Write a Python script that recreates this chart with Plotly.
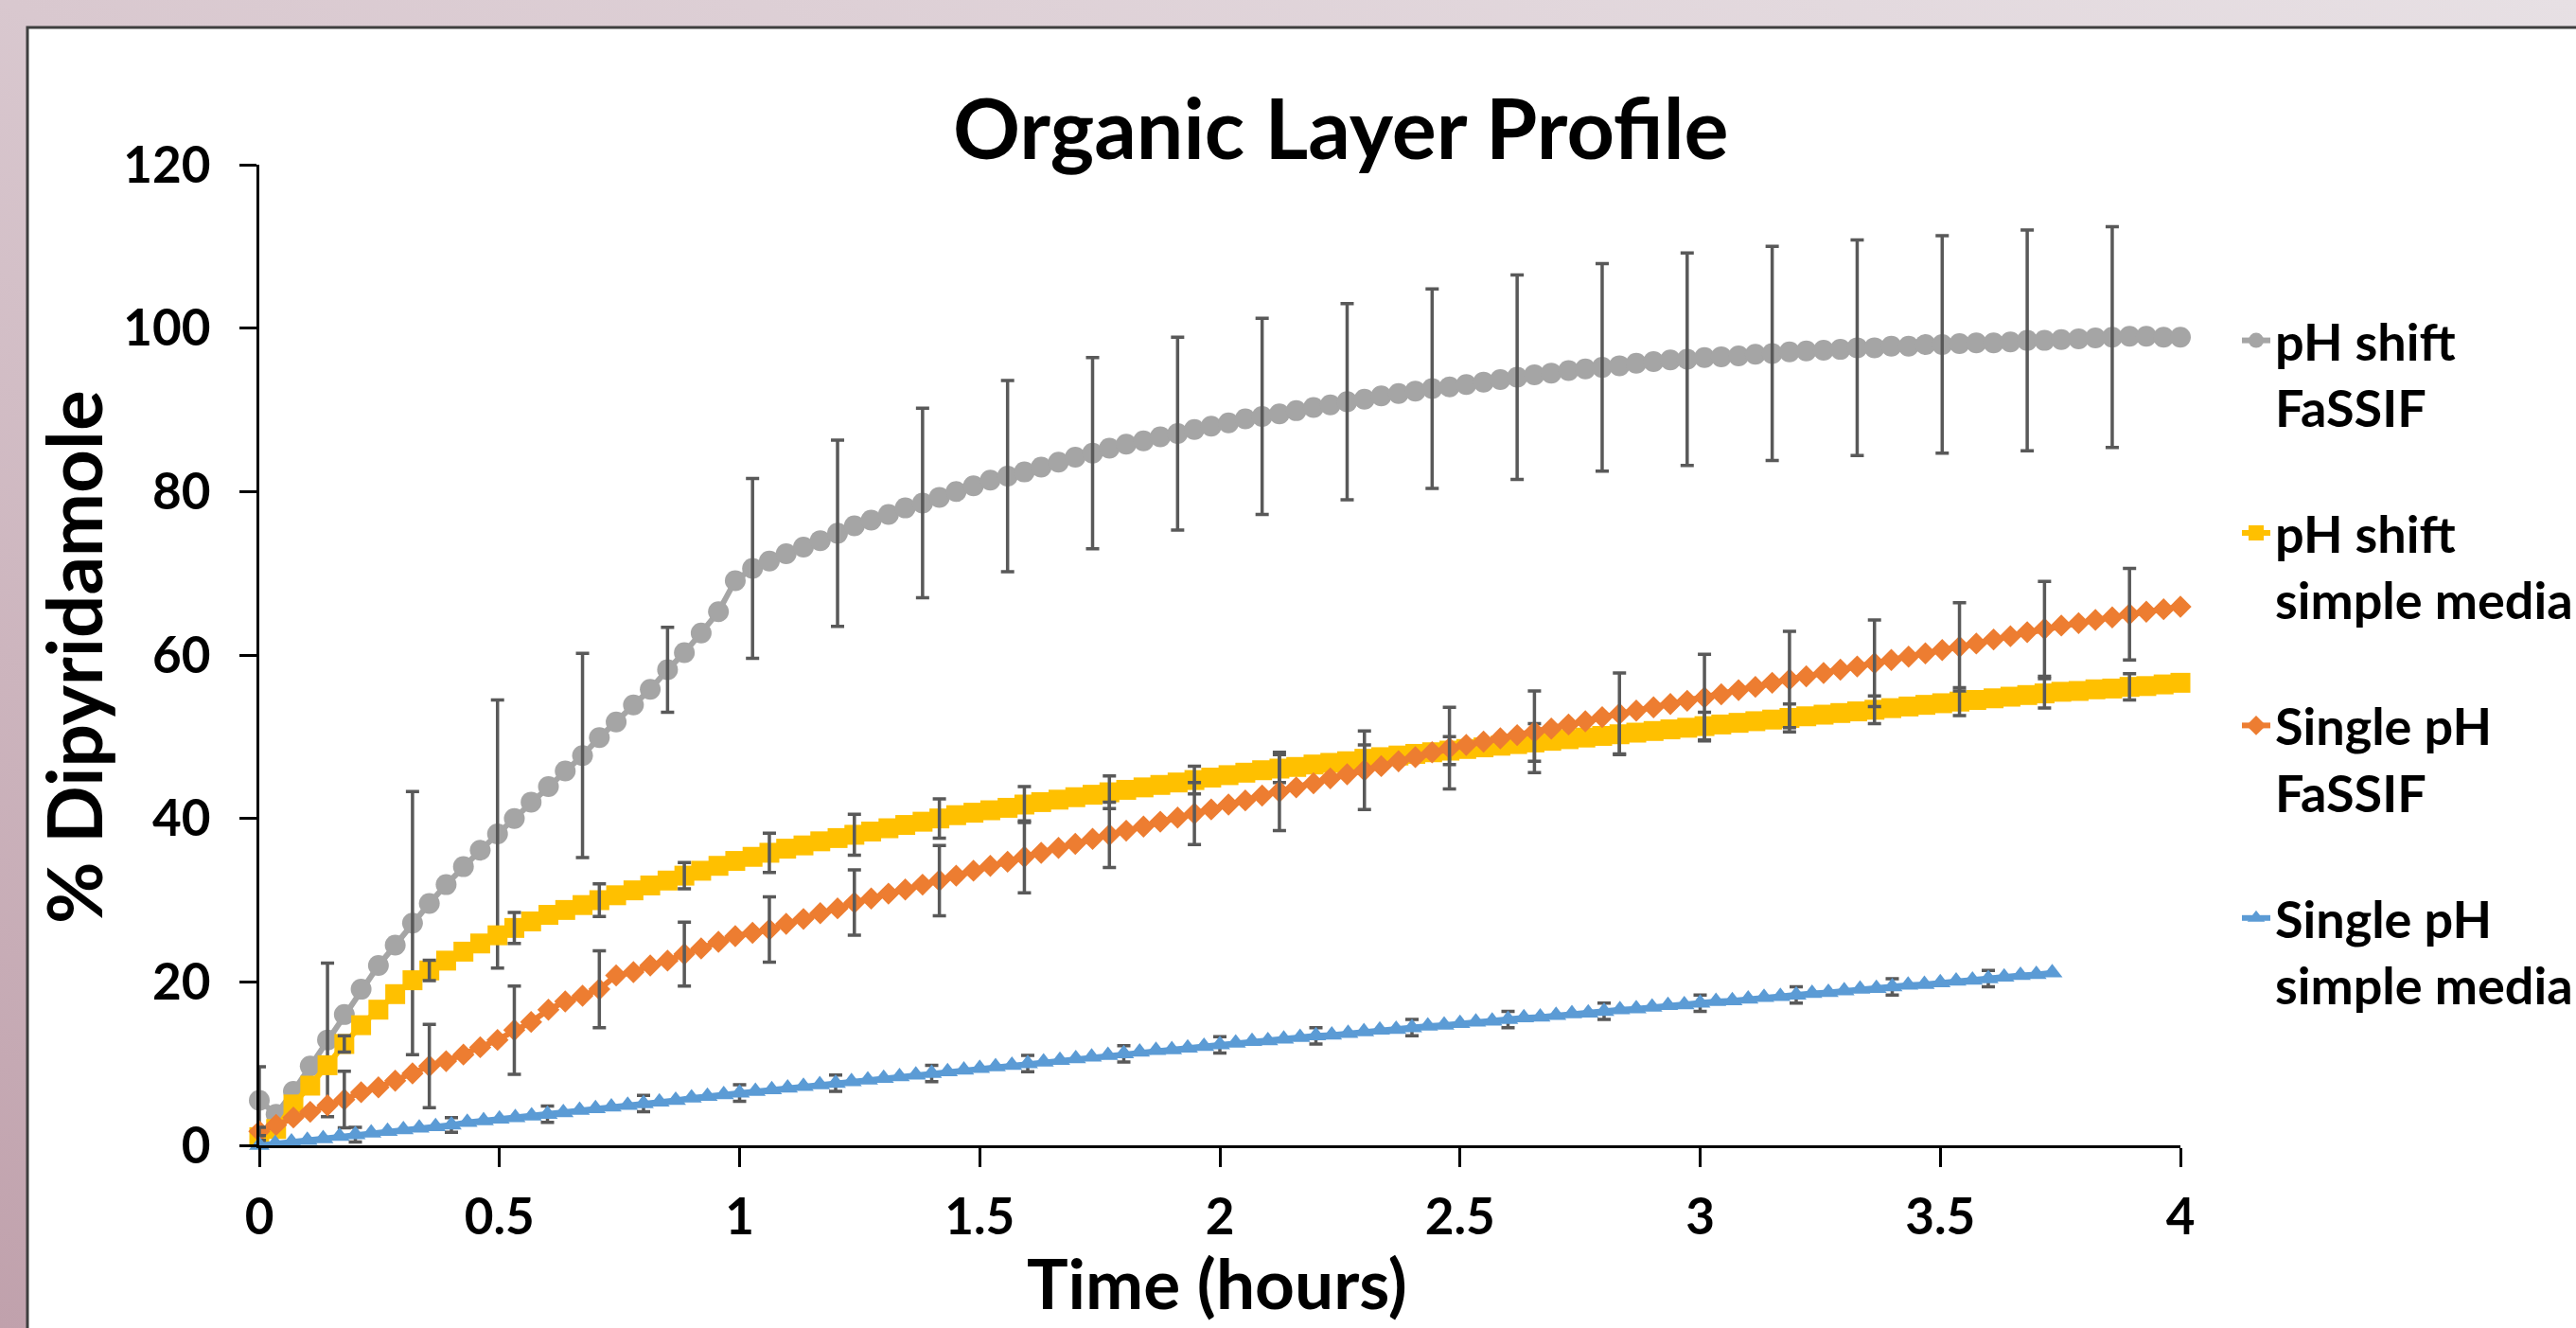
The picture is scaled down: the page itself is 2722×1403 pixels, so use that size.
import base64
import plotly.graph_objects as go

# ---------------- data ----------------
# sampling times (hours) for the three 4-hour experiments
time_h = [
    0.000, 0.035, 0.071, 0.106, 0.142, 0.177, 0.212, 0.248, 0.283, 0.319,
    0.354, 0.389, 0.425, 0.460, 0.496, 0.531, 0.566, 0.602, 0.637, 0.673,
    0.708, 0.743, 0.779, 0.814, 0.850, 0.885, 0.920, 0.956, 0.991, 1.027,
    1.062, 1.097, 1.133, 1.168, 1.204, 1.239, 1.274, 1.310, 1.345, 1.381,
    1.416, 1.451, 1.487, 1.522, 1.558, 1.593, 1.628, 1.664, 1.699, 1.735,
    1.770, 1.805, 1.841, 1.876, 1.912, 1.947, 1.982, 2.018, 2.053, 2.088,
    2.124, 2.159, 2.195, 2.230, 2.265, 2.301, 2.336, 2.372, 2.407, 2.442,
    2.478, 2.513, 2.549, 2.584, 2.619, 2.655, 2.690, 2.726, 2.761, 2.796,
    2.832, 2.867, 2.903, 2.938, 2.973, 3.009, 3.044, 3.080, 3.115, 3.150,
    3.186, 3.221, 3.257, 3.292, 3.327, 3.363, 3.398, 3.434, 3.469, 3.504,
    3.540, 3.575, 3.611, 3.646, 3.681, 3.717, 3.752, 3.788, 3.823, 3.858,
    3.894, 3.929, 3.965, 4.000,
]

ph_shift_fassif = [
    5.5, 3.8, 6.6, 9.7, 12.9, 16.0, 19.1, 22.0, 24.5, 27.2,
    29.6, 31.9, 34.1, 36.1, 38.1, 40.0, 42.0, 43.9, 45.8, 47.7,
    49.9, 51.8, 53.9, 55.8, 58.2, 60.3, 62.7, 65.3, 69.1, 70.6,
    71.5, 72.4, 73.2, 74.0, 74.9, 75.8, 76.5, 77.2, 78.0, 78.6,
    79.3, 80.0, 80.7, 81.4, 81.9, 82.4, 83.0, 83.6, 84.2, 84.7,
    85.3, 85.8, 86.2, 86.7, 87.1, 87.6, 88.0, 88.4, 88.9, 89.2,
    89.5, 89.9, 90.3, 90.6, 91.0, 91.3, 91.7, 92.0, 92.3, 92.6,
    92.8, 93.1, 93.4, 93.7, 94.0, 94.3, 94.5, 94.8, 95.0, 95.2,
    95.4, 95.7, 95.9, 96.1, 96.2, 96.4, 96.5, 96.6, 96.8, 96.9,
    97.1, 97.2, 97.3, 97.4, 97.6, 97.6, 97.8, 97.8, 98.0, 98.0,
    98.1, 98.2, 98.2, 98.3, 98.5, 98.5, 98.6, 98.7, 98.8, 98.9,
    99.0, 99.0, 98.9, 98.9,
]

ph_shift_simple = [
    1.0, 2.0, 5.0, 7.3, 9.8, 12.4, 14.7, 16.6, 18.5, 20.2,
    21.4, 22.6, 23.7, 24.7, 25.7, 26.6, 27.4, 28.2, 28.8, 29.4,
    30.0, 30.6, 31.2, 31.8, 32.4, 33.0, 33.6, 34.2, 34.8, 35.3,
    35.8, 36.3, 36.7, 37.2, 37.6, 38.0, 38.4, 38.8, 39.2, 39.6,
    40.0, 40.4, 40.7, 41.0, 41.3, 41.7, 42.0, 42.3, 42.6, 42.9,
    43.2, 43.5, 43.8, 44.1, 44.4, 44.7, 45.0, 45.3, 45.6, 45.9,
    46.1, 46.3, 46.6, 46.8, 47.0, 47.3, 47.5, 47.7, 47.9, 48.1,
    48.3, 48.5, 48.7, 48.9, 49.1, 49.3, 49.5, 49.7, 49.9, 50.1,
    50.3, 50.5, 50.7, 50.9, 51.1, 51.3, 51.5, 51.7, 51.9, 52.1,
    52.3, 52.5, 52.7, 52.9, 53.1, 53.3, 53.5, 53.7, 53.9, 54.1,
    54.3, 54.5, 54.7, 54.9, 55.1, 55.3, 55.5, 55.6, 55.8, 55.9,
    56.1, 56.2, 56.4, 56.6,
]

single_fassif = [
    1.7, 2.5, 3.4, 4.1, 4.9, 5.6, 6.5, 7.1, 7.9, 8.8,
    9.7, 10.3, 11.1, 12.0, 12.9, 14.1, 15.1, 16.6, 17.6, 18.3,
    19.1, 20.8, 21.2, 22.0, 22.6, 23.4, 24.1, 24.9, 25.6, 26.0,
    26.4, 27.1, 27.7, 28.4, 29.0, 29.7, 30.2, 30.8, 31.3, 31.9,
    32.4, 33.0, 33.6, 34.2, 34.7, 35.3, 35.8, 36.4, 36.9, 37.5,
    38.0, 38.5, 39.0, 39.6, 40.1, 40.6, 41.1, 41.7, 42.2, 42.8,
    43.3, 43.8, 44.3, 44.9, 45.4, 45.9, 46.4, 47.0, 47.5, 48.1,
    48.6, 49.0, 49.4, 49.8, 50.2, 50.6, 51.0, 51.5, 51.9, 52.4,
    52.8, 53.2, 53.6, 54.0, 54.4, 54.8, 55.2, 55.7, 56.1, 56.6,
    57.0, 57.4, 57.8, 58.2, 58.6, 59.0, 59.4, 59.8, 60.2, 60.6,
    61.0, 61.4, 61.9, 62.3, 62.8, 63.2, 63.6, 63.9, 64.3, 64.6,
    65.0, 65.3, 65.6, 65.9,
]

# sampling times (hours) for the single pH / simple media experiment
time_single_simple_h = [
    0.000, 0.033, 0.067, 0.100, 0.133, 0.167, 0.200, 0.233, 0.267, 0.300,
    0.333, 0.367, 0.400, 0.433, 0.467, 0.500, 0.533, 0.567, 0.600, 0.633,
    0.667, 0.700, 0.733, 0.767, 0.800, 0.833, 0.867, 0.900, 0.933, 0.967,
    1.000, 1.033, 1.067, 1.100, 1.133, 1.167, 1.200, 1.233, 1.267, 1.300,
    1.333, 1.367, 1.400, 1.433, 1.467, 1.500, 1.533, 1.567, 1.600, 1.633,
    1.667, 1.700, 1.733, 1.767, 1.800, 1.833, 1.867, 1.900, 1.933, 1.967,
    2.000, 2.033, 2.067, 2.100, 2.133, 2.167, 2.200, 2.233, 2.267, 2.300,
    2.333, 2.367, 2.400, 2.433, 2.467, 2.500, 2.533, 2.567, 2.600, 2.633,
    2.667, 2.700, 2.733, 2.767, 2.800, 2.833, 2.867, 2.900, 2.933, 2.967,
    3.000, 3.033, 3.067, 3.100, 3.133, 3.167, 3.200, 3.233, 3.267, 3.300,
    3.333, 3.367, 3.400, 3.433, 3.467, 3.500, 3.533, 3.567, 3.600, 3.633,
    3.667, 3.700, 3.733,
]

single_simple = [
    0.0, 0.2, 0.4, 0.6, 0.8, 1.1, 1.3, 1.5, 1.7, 1.9,
    2.1, 2.3, 2.5, 2.8, 3.0, 3.2, 3.4, 3.6, 3.8, 4.0,
    4.3, 4.5, 4.7, 4.9, 5.1, 5.3, 5.5, 5.8, 6.0, 6.2,
    6.4, 6.6, 6.8, 7.0, 7.2, 7.4, 7.6, 7.8, 8.0, 8.2,
    8.4, 8.6, 8.8, 9.0, 9.2, 9.4, 9.6, 9.8, 10.0, 10.2,
    10.4, 10.6, 10.8, 11.0, 11.2, 11.4, 11.6, 11.7, 11.9, 12.1,
    12.3, 12.5, 12.7, 12.8, 13.0, 13.2, 13.4, 13.5, 13.7, 13.9,
    14.1, 14.2, 14.4, 14.6, 14.7, 14.9, 15.1, 15.2, 15.4, 15.6,
    15.7, 15.9, 16.1, 16.2, 16.4, 16.6, 16.7, 16.9, 17.1, 17.2,
    17.4, 17.6, 17.7, 17.9, 18.1, 18.2, 18.4, 18.6, 18.7, 18.9,
    19.1, 19.2, 19.4, 19.6, 19.7, 19.9, 20.1, 20.2, 20.4, 20.6,
    20.8, 20.9, 21.1,
]

# error bars: sample index where a bar is shown, and its half-length
err_idx_ph_shift_fassif = [0, 4, 9, 14, 19, 24, 29, 34, 39, 44, 49, 54,
                           59, 64, 69, 74, 79, 84, 89, 94, 99, 104, 109]
err_ph_shift_fassif = [4.1, 9.4, 16.1, 16.4, 12.5, 5.2, 11.0, 11.4, 11.6, 11.7,
                       11.7, 11.8, 12.0, 12.0, 12.2, 12.5, 12.7, 13.0, 13.1,
                       13.2, 13.3, 13.5, 13.5]

err_idx_5 = [0, 5, 10, 15, 20, 25, 30, 35, 40, 45, 50, 55,
             60, 65, 70, 75, 80, 85, 90, 95, 100, 105, 110]
err_ph_shift_simple = [0.6, 1.0, 1.25, 1.9, 2.0, 1.6, 2.4, 2.5, 2.4, 2.2, 2.0, 1.7,
                       1.7, 1.7, 1.7, 2.3, 2.4, 1.7, 1.7, 1.7, 1.7, 1.8, 1.6]
err_single_fassif = [0.5, 3.45, 5.1, 5.4, 4.7, 3.9, 4.0, 4.0, 4.3, 4.4, 4.0, 3.8,
                     4.8, 4.8, 5.0, 5.0, 5.0, 5.3, 5.9, 5.3, 5.4, 5.8, 5.6]

err_idx_6 = [0, 6, 12, 18, 24, 30, 36, 42, 48, 54, 60, 66, 72, 78, 84, 90,
             96, 102, 108]
err_single_simple = [0.6, 0.9, 0.9, 1.0, 1.0, 1.0, 1.0, 1.0, 1.0, 1.0, 1.0, 1.0,
                     1.0, 1.0, 1.0, 1.0, 1.0, 1.0, 1.0]

series_names = ["pH shift<br>FaSSIF", "pH shift<br>simple media",
                "Single pH<br>FaSSIF", "Single pH<br>simple media"]
series_colors = ["#A5A5A5", "#FFC000", "#ED7D31", "#5B9BD5"]
x_ticks = [0, 0.5, 1, 1.5, 2, 2.5, 3, 3.5, 4]
y_ticks = [0, 20, 40, 60, 80, 100, 120]

# ---------------- figure ----------------
W, H = 2722, 1403
L, R, T, B = 274, 418, 174, 193
PW, PH = W - L - R, H - T - B


def px_x(p):
    return (p - L) / PW


def px_y(p):
    return (H - B - p) / PH


FONT = "Lato, 'Open Sans', sans-serif"
ERR_COLOR = "#595959"

fig = go.Figure()

series = [
    (time_h, ph_shift_fassif, err_idx_ph_shift_fassif, err_ph_shift_fassif, "circle", 22),
    (time_h, ph_shift_simple, err_idx_5, err_ph_shift_simple, "square", 21),
    (time_h, single_fassif, err_idx_5, err_single_fassif, "diamond", 18),
    (time_single_simple_h, single_simple, err_idx_6, err_single_simple, "triangle-up", 19),
]

for k, (tx, vy, eidx, err, sym, msize) in enumerate(series):
    color = series_colors[k]
    eb = go.Scatter(
        x=[tx[i] for i in eidx], y=[vy[i] for i in eidx],
        mode="markers", marker=dict(size=2, color="rgba(0,0,0,0)"),
        error_y=dict(type="data", array=err, visible=True, color=ERR_COLOR,
                     thickness=3.5, width=7),
        showlegend=False, hoverinfo="skip", cliponaxis=False,
    )
    line = go.Scatter(
        x=tx, y=vy, name=series_names[k], legendgroup=str(k),
        mode="lines+markers",
        line=dict(color=color, width=6),
        marker=dict(symbol=sym, size=msize, color=color, line=dict(width=0)),
        cliponaxis=False,
    )
    if k == 3:
        fig.add_trace(eb)
        fig.add_trace(line)
    else:
        fig.add_trace(line)
        fig.add_trace(eb)

# background gradient (slide) and white chart area
svg = ('<svg xmlns="http://www.w3.org/2000/svg" width="%d" height="%d">'
       '<defs><linearGradient id="g" x1="1" y1="0" x2="0" y2="1">'
       '<stop offset="0" stop-color="#e7e0e4"/>'
       '<stop offset="0.5" stop-color="#d9c8cf"/>'
       '<stop offset="1" stop-color="#c0a1ac"/>'
       '</linearGradient></defs>'
       '<rect width="%d" height="%d" fill="url(#g)"/></svg>') % (W, H, W, H)
src = "data:image/svg+xml;base64," + base64.b64encode(svg.encode()).decode()

fig.update_layout(
    width=W, height=H,
    margin=dict(l=L, r=R, t=T, b=B, pad=0, autoexpand=False),
    paper_bgcolor="#d6c4cb",
    plot_bgcolor="white",
    font=dict(family=FONT, color="black"),
    images=[dict(source=src, xref="paper", yref="paper",
                 x=px_x(0), y=px_y(0), sizex=W / PW, sizey=H / PH,
                 sizing="stretch", layer="below", xanchor="left", yanchor="top")],
    shapes=[dict(type="rect", xref="paper", yref="paper",
                 x0=px_x(29), x1=px_x(W + 40), y0=px_y(H + 40), y1=px_y(29),
                 fillcolor="white", line=dict(color="#3f3f3f", width=3),
                 layer="below")],
    showlegend=True,
    legend=dict(
        x=px_x(2364), xanchor="left", y=px_y(318), yanchor="top",
        font=dict(family=FONT, size=54, color="black", weight="bold"),
        bgcolor="rgba(0,0,0,0)", borderwidth=0,
        tracegroupgap=60, traceorder="grouped", valign="top",
        itemsizing="trace",
    ),
    xaxis=dict(
        range=[0, 4], tickvals=x_ticks, ticktext=[("%g" % v) for v in x_ticks],
        showline=True, linecolor="black", linewidth=3,
        ticks="outside", ticklen=20, tickwidth=3, tickcolor="black",
        showgrid=False, zeroline=False,
        tickfont=dict(family=FONT, size=53, color="black", weight="bold"),
        ticklabelstandoff=7,
    ),
    yaxis=dict(
        range=[0, 120], tickvals=y_ticks,
        showline=True, linecolor="black", linewidth=3,
        ticks="outside", ticklen=18, tickwidth=3, tickcolor="black",
        showgrid=False, zeroline=False,
        tickfont=dict(family=FONT, size=53, color="black", weight="bold"),
        ticklabelstandoff=20,
    ),
    annotations=[
        dict(text="Organic Layer Profile", xref="paper", yref="paper",
             x=px_x(1417), y=px_y(134), xanchor="center", yanchor="middle",
             showarrow=False,
             font=dict(family=FONT, size=88, color="black", weight="bold")),
        dict(text="Time (hours)", xref="paper", yref="paper",
             x=px_x(1286), y=px_y(1355), xanchor="center", yanchor="middle",
             showarrow=False,
             font=dict(family=FONT, size=73, color="black", weight="bold")),
        dict(text="% Dipyridamole", xref="paper", yref="paper",
             x=px_x(77), y=px_y(694), xanchor="center", yanchor="middle",
             textangle=-90, showarrow=False,
             font=dict(family=FONT, size=80, color="black", weight="bold")),
    ],
)

fig.write_html("out.html", config={"displayModeBar": False},
               post_script="document.body.style.margin='0px';")
